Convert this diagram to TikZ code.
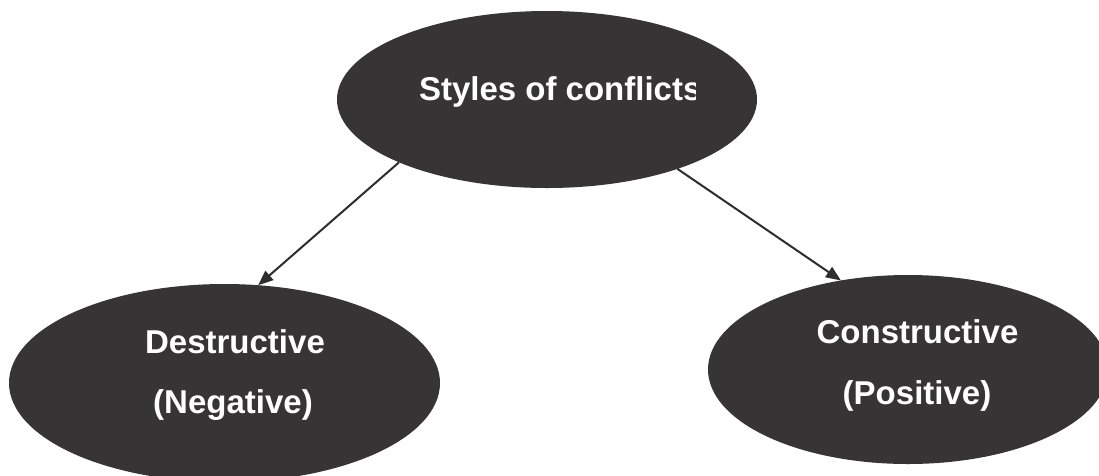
\documentclass[tikz,border=0pt]{standalone}
\usepackage{fontspec}
\setmainfont{Liberation Sans}
\usetikzlibrary{shapes.geometric,arrows.meta}
\definecolor{blob}{RGB}{54,52,53}
\definecolor{arrowc}{RGB}{45,45,45}
\tikzset{
  blobnode/.style={ellipse, fill=blob, draw=none, inner sep=0pt, outer sep=0pt},
  lbl/.style={text=white, font=\fontsize{33}{33}\selectfont\bfseries, inner sep=0pt, outer sep=0pt},
  conn/.style={draw=arrowc, line width=2pt, -{Triangle[length=15pt,width=12pt]}}
}
\begin{document}
\begin{tikzpicture}[x=1pt,y=-1pt]
\useasboundingbox (0,0) rectangle (1099,475);
\clip (0,0) rectangle (1099,475);
\fill[white] (0,0) rectangle (1099,475);
\node[blobnode, minimum width=420pt, minimum height=177pt] (top) at (547,99.5) {};
\node[blobnode, minimum width=431pt, minimum height=198pt] (left) at (224.5,383) {};
\node[blobnode, minimum width=400pt, minimum height=189pt] (right) at (908,369.5) {};
\begin{scope}
\clip (400,60) rectangle (695,120);
\node[lbl, anchor=base west] (toplbl) at (419,100) {Styles of conflicts};
\end{scope}
\node[lbl, anchor=base] (l1) at (235,353) {Destructive};
\node[lbl, anchor=base] (l2) at (233,413) {(Negative)};
\node[lbl, anchor=base] (r1) at (917.5,343) {Constructive};
\node[lbl, anchor=base] (r2) at (917,404) {(Positive)};
\draw[conn] (top.203.1) -- (left.71.5);
\draw[conn] (top.332.1) -- (right.127.4);
\end{tikzpicture}
\end{document}
